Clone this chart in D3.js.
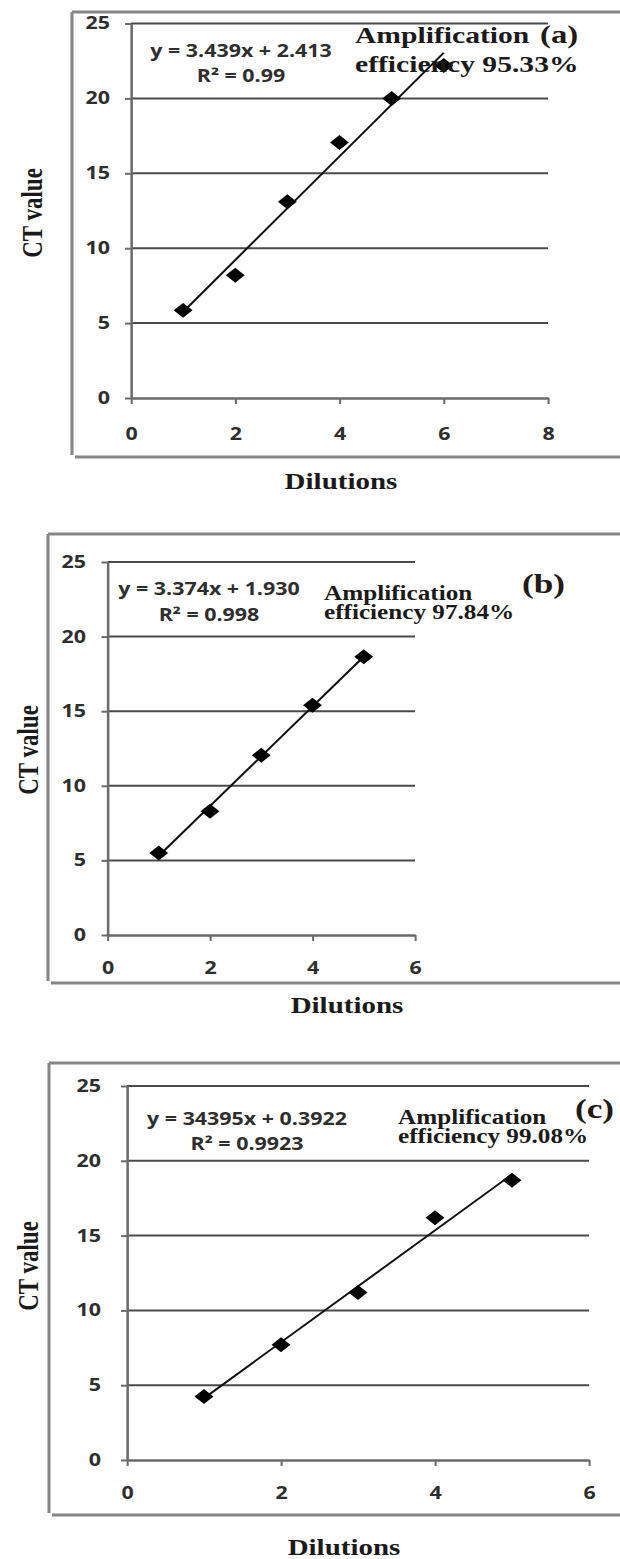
<!DOCTYPE html>
<html>
<head>
<meta charset="utf-8">
<script src="https://cdn.jsdelivr.net/npm/d3@7"></script>
<style>
  body { margin: 0; background: #fff; }
  svg { display: block; }
</style>
</head>
<body>
<div id="chart"></div>
<script>
// data
const dilutionsA = [1, 2, 3, 4, 5, 6];
const ctA = [5.85, 8.2, 13.1, 17.05, 20.0, 22.2];
const dilutionsB = [1, 2, 3, 4, 5];
const ctB = [5.5, 8.3, 12.05, 15.4, 18.65];
const dilutionsC = [1, 2, 3, 4, 5];
const ctC = [4.25, 7.7, 11.2, 16.2, 18.7];

const yTicks = [0, 5, 10, 15, 20, 25];
const xTicksA = [0, 2, 4, 6, 8];
const xTicksBC = [0, 2, 4, 6];

const equations = ["y = 3.439x + 2.413", "y = 3.374x + 1.930", "y = 34395x + 0.3922"];
const rSquared = ["R\u00b2 = 0.99", "R\u00b2 = 0.998", "R\u00b2 = 0.9923"];
const efficiencies = ["efficiency 95.33%", "efficiency 97.84%", "efficiency 99.08%"];
const panelTags = ["(a)", "(b)", "(c)"];

// the source picture is stretched sideways, so draw in a squeezed space
const SX = 1.26;
const lx = v => v / SX;

// layout in screen pixels
const panels = [
  { xs: dilutionsA, ys: ctA, xMax: 8, xTicks: xTicksA, i: 0,
    frame: { left: 72, top: 12, bottom: 457 },
    plot: { x0: 131, x1: 548, y0: 398, y1: 23.5 }, yLabEnd: 110, xLabBase: 440,
    dil: { cx: 341, base: 489 }, ct: { base: 42, cy: 213 },
    eq: { cx: 241, b1: 57, b2: 82 },
    amp: { x: 355, b1: 43, b2: 72, size: 23.5 }, tag: { x: 540, base: 43, size: 26 } },
  { xs: dilutionsB, ys: ctB, xMax: 6, xTicks: xTicksBC, i: 1,
    frame: { left: 48, top: 534, bottom: 983 },
    plot: { x0: 107.5, x1: 415, y0: 935, y1: 562 }, yLabEnd: 86, xLabBase: 974,
    dil: { cx: 347, base: 1013 }, ct: { base: 37.5, cy: 750 },
    eq: { cx: 209, b1: 595, b2: 621 },
    amp: { x: 324, b1: 600, b2: 619, size: 20 }, tag: { x: 522, base: 593, size: 28 } },
  { xs: dilutionsC, ys: ctC, xMax: 6, xTicks: xTicksBC, i: 2,
    frame: { left: 49, top: 1063, bottom: 1515 },
    plot: { x0: 127, x1: 589, y0: 1460, y1: 1086 }, yLabEnd: 101, xLabBase: 1499,
    dil: { cx: 344, base: 1555 }, ct: { base: 37.5, cy: 1266 },
    eq: { cx: 247, b1: 1125, b2: 1150 },
    amp: { x: 398, b1: 1124, b2: 1143, size: 20 }, tag: { x: 575, base: 1118, size: 28 } }
];

const W = 620, H = 1559;
const svg = d3.select("#chart").append("svg")
    .attr("width", W)
    .attr("height", H);
const root = svg.append("g").attr("transform", `scale(${SX},1)`);

const sansBold = "'Open Sans', Lato, sans-serif";
const serif = "'Liberation Serif', 'DejaVu Serif', serif";

function fit(xs, ys) {
    const mx = d3.mean(xs), my = d3.mean(ys);
    const sxy = d3.sum(xs, (v, k) => (v - mx) * (ys[k] - my));
    const sxx = d3.sum(xs, v => (v - mx) * (v - mx));
    const slope = sxy / sxx;
    return { slope, intercept: my - slope * mx };
}

function drawPanel(p) {
    const g = root.append("g");

    // outer frame
    g.append("line")
        .attr("x1", lx(p.frame.left)).attr("x2", lx(p.frame.left))
        .attr("y1", p.frame.top).attr("y2", p.frame.bottom - 2)
        .attr("stroke", "#858585").attr("stroke-width", 2.4);
    g.append("line")
        .attr("x1", lx(p.frame.left)).attr("x2", lx(W))
        .attr("y1", p.frame.top).attr("y2", p.frame.top)
        .attr("stroke", "#858585").attr("stroke-width", 3);
    g.append("line")
        .attr("x1", lx(p.frame.left + 3)).attr("x2", lx(W))
        .attr("y1", p.frame.bottom).attr("y2", p.frame.bottom)
        .attr("stroke", "#858585").attr("stroke-width", 3);

    const x = d3.scaleLinear().domain([0, p.xMax]).range([lx(p.plot.x0), lx(p.plot.x1)]);
    const y = d3.scaleLinear().domain([0, 25]).range([p.plot.y0, p.plot.y1]);

    // horizontal gridlines
    g.append("g").selectAll("line")
        .data(yTicks.filter(t => t > 0))
        .join("line")
        .attr("x1", x(0)).attr("x2", x(p.xMax))
        .attr("y1", d => y(d)).attr("y2", d => y(d))
        .attr("stroke", "#4a4a4a").attr("stroke-width", 2);

    // y axis
    const tick = lx(6);
    const yAxis = g.append("g")
        .attr("transform", `translate(${x(0)},0)`)
        .call(d3.axisLeft(y).tickValues(yTicks).tickFormat(d3.format("d"))
            .tickSize(tick).tickSizeOuter(0)
            .tickPadding(lx(p.plot.x0 - p.yLabEnd) - tick));
    yAxis.select(".domain").attr("stroke", "#6a6a6a").attr("stroke-width", 2);
    yAxis.selectAll(".tick line").attr("stroke", "#6a6a6a").attr("stroke-width", 2);
    yAxis.selectAll("text")
        .attr("font-family", sansBold).attr("font-weight", 700)
        .attr("font-size", 17).attr("fill", "#2e2e2e");

    // x axis
    const xAxis = g.append("g")
        .attr("transform", `translate(0,${y(0)})`)
        .call(d3.axisBottom(x).tickValues(p.xTicks).tickFormat(d3.format("d"))
            .tickSize(6).tickSizeOuter(0).tickPadding(0));
    xAxis.select(".domain").attr("stroke", "#6a6a6a").attr("stroke-width", 2.5);
    xAxis.selectAll(".tick line").attr("stroke", "#6a6a6a").attr("stroke-width", 1.6);
    xAxis.selectAll("text")
        .attr("y", p.xLabBase - p.plot.y0).attr("dy", null)
        .attr("font-family", sansBold).attr("font-weight", 700)
        .attr("font-size", 17).attr("fill", "#2e2e2e");

    // trendline from least squares
    const f = fit(p.xs, p.ys);
    const ext = d3.extent(p.xs);
    g.append("path")
        .datum(ext.map(v => [v, f.intercept + f.slope * v]))
        .attr("fill", "none").attr("stroke", "#111").attr("stroke-width", 1.8)
        .attr("d", d3.line().x(d => x(d[0])).y(d => y(d[1])));

    // diamond markers
    const sym = d3.symbol(d3.symbolSquare, 112);
    g.append("g").selectAll("path")
        .data(p.xs.map((v, k) => [v, p.ys[k]]))
        .join("path")
        .attr("transform", d => `translate(${x(d[0])},${y(d[1])}) rotate(45)`)
        .attr("d", sym)
        .attr("fill", "#000");

    // regression equation
    g.append("text")
        .attr("x", lx(p.eq.cx)).attr("y", p.eq.b1)
        .attr("text-anchor", "middle")
        .attr("font-family", sansBold).attr("font-weight", 700)
        .attr("font-size", 17).attr("fill", "#2e2e2e")
        .text(equations[p.i]);
    g.append("text")
        .attr("x", lx(p.eq.cx)).attr("y", p.eq.b2)
        .attr("text-anchor", "middle")
        .attr("font-family", sansBold).attr("font-weight", 700)
        .attr("font-size", 17).attr("fill", "#2e2e2e")
        .text(rSquared[p.i]);

    // efficiency note and panel tag
    g.append("text")
        .attr("x", lx(p.amp.x)).attr("y", p.amp.b1)
        .attr("font-family", serif).attr("font-weight", 700)
        .attr("font-size", p.amp.size).attr("fill", "#1a1a1a")
        .text("Amplification");
    g.append("text")
        .attr("x", lx(p.amp.x)).attr("y", p.amp.b2)
        .attr("font-family", serif).attr("font-weight", 700)
        .attr("font-size", p.amp.size).attr("fill", "#1a1a1a")
        .text(efficiencies[p.i]);
    g.append("text")
        .attr("x", lx(p.tag.x)).attr("y", p.tag.base)
        .attr("font-family", serif).attr("font-weight", 700)
        .attr("font-size", p.tag.size).attr("fill", "#221a14")
        .text(panelTags[p.i]);

    // axis titles
    g.append("text")
        .attr("x", lx(p.dil.cx)).attr("y", p.dil.base)
        .attr("text-anchor", "middle")
        .attr("font-family", serif).attr("font-weight", 700)
        .attr("font-size", 23).attr("fill", "#1a1a1a")
        .text("Dilutions");
    g.append("text")
        .attr("transform", `translate(${lx(p.ct.base)},${p.ct.cy}) rotate(-90)`)
        .attr("text-anchor", "middle")
        .attr("font-family", serif).attr("font-weight", 700)
        .attr("font-size", 23).attr("fill", "#1a1a1a")
        .text("CT value");
}

panels.forEach(drawPanel);
</script>
</body>
</html>
